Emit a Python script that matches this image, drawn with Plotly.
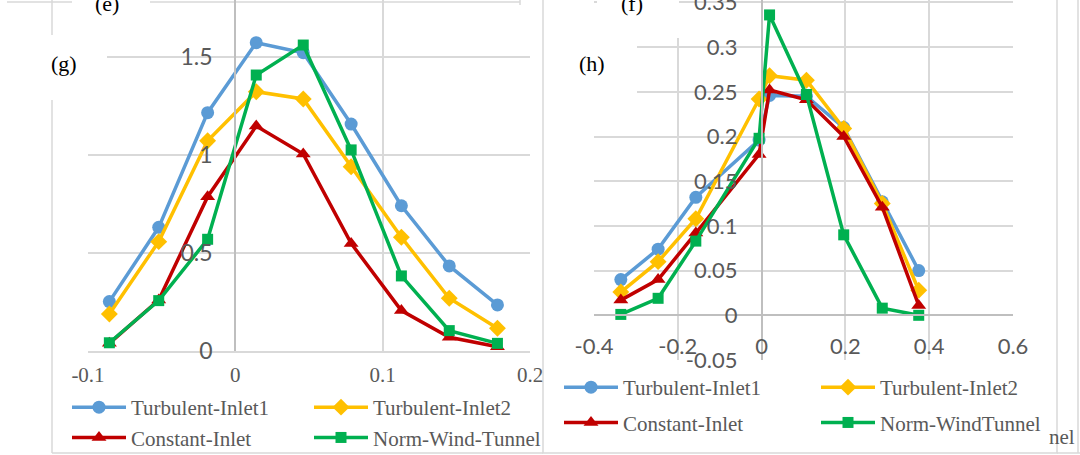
import plotly.graph_objects as go

W, H = 1080, 455

# ---------------- data ----------------
series_names_g = ["Turbulent-Inlet1", "Turbulent-Inlet2", "Constant-Inlet", "Norm-Wind-Tunnel"]
series_names_h = ["Turbulent-Inlet1", "Turbulent-Inlet2", "Constant-Inlet", "Norm-WindTunnel"]

x_g = [-0.0855, -0.052, -0.0188, 0.0142, 0.0461, 0.0786, 0.1127, 0.1452, 0.1779]
g_turb1 = [0.252, 0.631, 1.216, 1.573, 1.522, 1.158, 0.741, 0.434, 0.235]
g_turb2 = [0.189, 0.558, 1.073, 1.323, 1.286, 0.940, 0.580, 0.269, 0.116]
g_const = [0.039, 0.260, 0.787, 1.148, 1.005, 0.549, 0.206, 0.070, 0.022]
g_wind = [0.042, 0.257, 0.570, 1.408, 1.561, 1.026, 0.383, 0.104, 0.039]

x_h = [-0.336, -0.247, -0.157, -0.006, 0.019, 0.107, 0.196, 0.288, 0.375]
h_turb1 = [0.040, 0.074, 0.132, 0.196, 0.246, 0.245, 0.210, 0.127, 0.050]
h_turb2 = [0.026, 0.060, 0.108, 0.242, 0.268, 0.263, 0.209, 0.125, 0.028]
h_const = [0.017, 0.040, 0.092, 0.180, 0.252, 0.241, 0.200, 0.121, 0.011]
h_wind = [0.001, 0.019, 0.083, 0.198, 0.336, 0.247, 0.090, 0.008, 0.000]

g_xticks = [-0.1, 0, 0.1, 0.2]
g_xtick_text = ["-0.1", "0", "0.1", "0.2"]
g_yticks = [0, 0.5, 1, 1.5]
g_ytick_text = ["0", "0.5", "1", "1.5"]
h_xticks = [-0.4, -0.2, 0, 0.2, 0.4, 0.6]
h_xtick_text = ["-0.4", "-0.2", "0", "0.2", "0.4", "0.6"]
h_yticks = [-0.05, 0, 0.05, 0.1, 0.15, 0.2, 0.25, 0.3, 0.35]
h_ytick_text = ["-0.05", "0", "0.05", "0.1", "0.15", "0.2", "0.25", "0.3", "0.35"]

colors = ["#5B9BD5", "#FFC000", "#C00000", "#00B050"]
symbols = ["circle", "diamond", "triangle-up", "square"]
msizes = [13, 13, 13, 11]

# ---------------- helpers ----------------
def PX(px):
    return px / W

def PY(py):
    return 1 - py / H

SERIF = "Liberation Serif"
SANS = "Lato"
GRAY = "#595959"
GRID = "#D9D9D9"
AXIS = "#BFBFBF"

fig = go.Figure()

g_vals = [g_turb1, g_turb2, g_const, g_wind]
h_vals = [h_turb1, h_turb2, h_const, h_wind]
g_leg = ["legend", "legend2", "legend", "legend2"]
h_leg = ["legend3", "legend4", "legend3", "legend4"]

for i in range(4):
    fig.add_trace(go.Scatter(
        x=x_g, y=g_vals[i], name=series_names_g[i], mode="lines+markers",
        line=dict(color=colors[i], width=3.5),
        marker=dict(symbol=symbols[i], size=msizes[i], color=colors[i]),
        xaxis="x", yaxis="y", legend=g_leg[i], legendgroup="g%d" % i,
    ))
for i in range(4):
    fig.add_trace(go.Scatter(
        x=x_h, y=h_vals[i], name=series_names_h[i], mode="lines+markers",
        line=dict(color=colors[i], width=3.5),
        marker=dict(symbol=symbols[i], size=msizes[i], color=colors[i]),
        xaxis="x2", yaxis="y2", legend=h_leg[i], legendgroup="h%d" % i,
    ))

g_y0, g_unit = 351.0, 196.0
h_y0, h_unit = 315.0, 894.0

common = dict(showgrid=True, gridcolor=GRID, gridwidth=1.5, zeroline=False,
              ticks="", fixedrange=True, ticklabeloverflow="allow")

fig.update_layout(
    width=W, height=H, margin=dict(l=0, r=0, t=0, b=0, autoexpand=False),
    paper_bgcolor="white", plot_bgcolor="rgba(0,0,0,0)",
    showlegend=True,
    xaxis=dict(domain=[PX(88), PX(530)], range=[-0.1, 0.2], anchor="y",
               tickvals=g_xticks, ticktext=g_xtick_text,
               tickfont=dict(family=SERIF, size=21, color=GRAY),
               showline=True, linecolor=GRID, linewidth=1.5, ticklabelstandoff=4, **common),
    yaxis=dict(domain=[PY(g_y0), 1], range=[0, g_y0 / g_unit], anchor="free",
               position=PX(235), tickvals=g_yticks, ticktext=g_ytick_text,
               tickfont=dict(family=SANS, size=23, color=GRAY),
               showline=True, linecolor=AXIS, linewidth=1.5, ticklabelstandoff=17, **common),
    xaxis2=dict(domain=[PX(594), PX(1013)], range=[-0.4, 0.6], anchor="free",
                position=PY(h_y0), tickvals=h_xticks, ticktext=h_xtick_text,
                tickfont=dict(family=SANS, size=22, color=GRAY),
                showline=True, linecolor=AXIS, linewidth=1.5, ticklabelstandoff=12, **common),
    yaxis2=dict(domain=[PY(360), 1], range=[-0.05, -0.05 + 360 / h_unit], anchor="free",
                position=PX(761.6), tickvals=h_yticks, ticktext=h_ytick_text,
                tickfont=dict(family=SANS, size=22, color=GRAY),
                showline=True, linecolor=AXIS, linewidth=1.5, ticklabelstandoff=19, **common),
)

leg_common = dict(orientation="v", xanchor="left", yanchor="top", bgcolor="rgba(0,0,0,0)",
                  font=dict(family=SERIF, size=21, color=GRAY), itemwidth=54)
fig.update_layout(
    legend=dict(x=PX(67), y=PY(387), tracegroupgap=0, **leg_common),
    legend2=dict(x=PX(309), y=PY(387), tracegroupgap=0, **leg_common),
    legend3=dict(x=PX(559), y=PY(367), tracegroupgap=5, **leg_common),
    legend4=dict(x=PX(816), y=PY(367), tracegroupgap=5, **leg_common),
)

shapes = []

def line(x0, y0, x1, y1, color=GRID, width=1.5, layer="below"):
    shapes.append(dict(type="line", xref="paper", yref="paper",
                       x0=PX(x0), y0=PY(y0), x1=PX(x1), y1=PY(y1),
                       line=dict(color=color, width=width), layer=layer))

def box(x0, y0, x1, y1, fill="white", lc=None, layer="below"):
    shapes.append(dict(type="rect", xref="paper", yref="paper",
                       x0=PX(x0), y0=PY(y1), x1=PX(x1), y1=PY(y0),
                       fillcolor=fill, line=dict(color=lc or "rgba(0,0,0,0)", width=1.5),
                       layer=layer))

line(7, 2, 520, 2)
line(520, 0, 520, 5)
line(52, 0, 52, 453)
line(52, 453, 543, 453)
line(1078, -5, 1078, 453)
line(1057, 453, 1080, 453)
box(543, -5, 1057, 453, lc=GRID)
# label boxes (cover grid lines)
box(72, -5, 150, 35, layer="above")
box(28, 35, 107, 100, layer="above")
box(597, -5, 679, 38, layer="above")
box(565, 35, 637, 100, layer="above")
fig.update_layout(shapes=shapes)

annotations = []
for txt, x, y in [("(e)", 107, 4), ("(g)", 64, 64), ("(f)", 632, 4), ("(h)", 592, 64)]:
    annotations.append(dict(text=txt, xref="paper", yref="paper", x=PX(x), y=PY(y),
                            xanchor="center", yanchor="middle", showarrow=False,
                            font=dict(family=SERIF, size=22, color="black")))
annotations.append(dict(text="nel", xref="paper", yref="paper", x=PX(1077), y=PY(437),
                        xanchor="right", yanchor="middle", showarrow=False,
                        font=dict(family=SERIF, size=21, color=GRAY)))
fig.update_layout(annotations=annotations)

fig.write_html("out.html")
